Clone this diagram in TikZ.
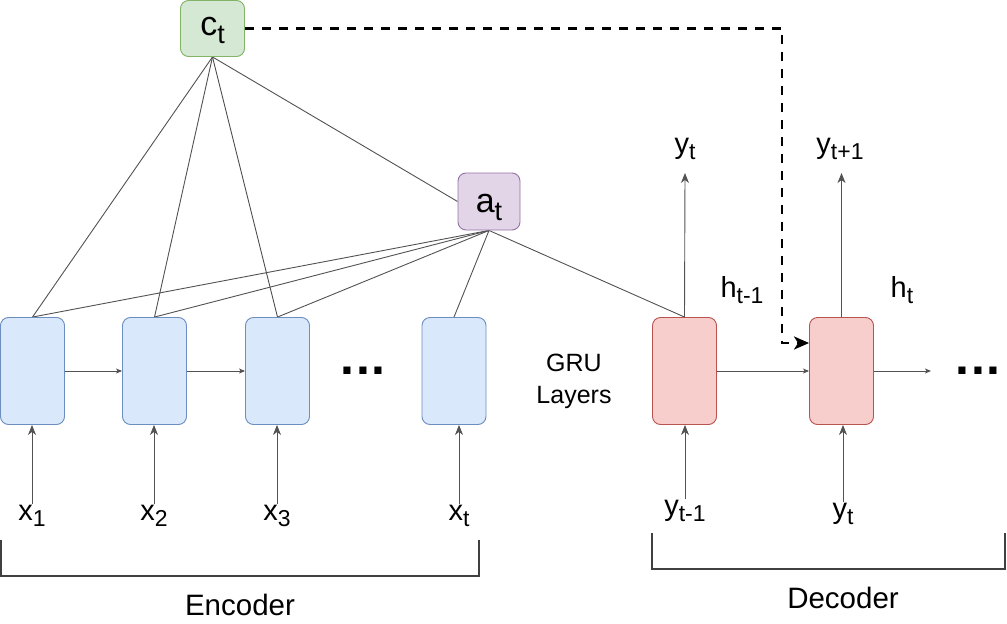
\documentclass[tikz,border=0pt]{standalone}
\usepackage{fontspec}
\setmainfont{Liberation Sans}
\usetikzlibrary{arrows.meta,backgrounds}
\definecolor{encf}{HTML}{DAE8FC}\definecolor{encd}{HTML}{6C8EBF}
\definecolor{decf}{HTML}{F8CECC}\definecolor{decd}{HTML}{B85450}
\definecolor{ctf}{HTML}{D5E8D4}\definecolor{ctd}{HTML}{82B366}
\definecolor{atf}{HTML}{E1D5E7}\definecolor{atd}{HTML}{9673A6}
\newcommand\lb[2]{#1\raisebox{-6pt}{\fontsize{23}{23}\selectfont #2}}
\newcommand\lbbig[2]{#1\raisebox{-8pt}{\fontsize{27}{27}\selectfont #2}}
\tikzset{
  cell/.style={rectangle, rounded corners=8pt, minimum width=64pt, minimum height=107pt, inner sep=0pt, line width=0.9pt},
  enc/.style={cell, fill=encf, draw=encd},
  dec/.style={cell, fill=decf, draw=decd},
  attn/.style={rectangle, rounded corners=8pt, inner sep=0pt, line width=0.9pt, font=\fontsize{34}{34}\selectfont},
  lbl/.style={font=\fontsize{29}{29}\selectfont, inner sep=0pt, anchor=base},
  conn/.style={draw=black!68, line width=0.9pt},
  arr/.style={conn, -{Stealth[length=10pt,width=8pt,inset=3pt]}},
  sarr/.style={conn, -{Stealth[length=6pt,width=5pt,inset=1.5pt]}},
  dsh/.style={draw=black, line width=2.6pt, dash pattern=on 9pt off 8pt, -{Stealth[length=15pt,width=13pt,inset=4pt]}},
  bracket/.style={draw=black!75, line width=1.1pt},
  dots/.style={font=\fontsize{50}{50}\selectfont\bfseries, inner sep=0pt, anchor=base},
  big/.style={font=\fontsize{29.5}{29.5}\selectfont, anchor=base, inner sep=0pt},
}
\begin{document}
\begin{tikzpicture}[x=1pt,y=-1pt]
\useasboundingbox (0,0) rectangle (1007,624);
% cells
\node[enc] (e1) at (32.5,371) {};
\node[enc] (e2) at (154.5,371) {};
\node[enc] (e3) at (277.5,371) {};
\node[enc] (e4) at (454,371) {};
\node[dec] (d1) at (684.5,371) {};
\node[dec] (d2) at (841.5,371) {};
% attention nodes
\node[attn, fill=ctf, draw=ctd, minimum width=64pt, minimum height=56pt, text height=17pt, text depth=4pt] (ct) at (212.5,28.5) {\lbbig{c}{t}};
\node[attn, fill=atf, draw=atd, minimum width=62pt, minimum height=57pt, text height=21pt, text depth=0pt] (at) at (489,201.5) {\lbbig{a}{t}};
% dots
\node[dots] (dots1) at (363,374) {.\kern2pt.\kern2pt.};
\node[dots] (dots2) at (978,374) {.\kern2pt.\kern2pt.};
% labels
\node[lbl] (x1) at (32,520) {\lb{x}{1}};
\node[lbl] (x2) at (154,520) {\lb{x}{2}};
\node[lbl] (x3) at (277,520) {\lb{x}{3}};
\node[lbl] (xt) at (459,520) {\lb{x}{t}};
\node[lbl] (yin1) at (685,515) {\lb{y}{t-1}};
\node[lbl] (yin2) at (843,518) {\lb{y}{t}};
\node[lbl] (yo1) at (685,153) {\lb{y}{t}};
\node[lbl] (yo2) at (840,153) {\lb{y}{t+1}};
\node[lbl] (h1) at (742,297) {\lb{h}{t-1}};
\node[lbl] (h2) at (902,297) {\lb{h}{t}};
\node[font=\fontsize{25}{32}\selectfont, align=center, inner sep=0pt] (gru) at (574,381) {GRU\\Layers};
\node[big] (enclbl) at (240,615) {Encoder};
\node[big] (declbl) at (843,608) {Decoder};
% coordinates
\coordinate (tip1) at (685,173);
\coordinate (tip2) at (841.5,173);
\coordinate (next) at (931,371);
\coordinate (dk1) at (782,28.5);
\coordinate (dk2) at (782,343);
\coordinate (eb1) at (1,540);\coordinate (eb2) at (1,576);\coordinate (eb3) at (479,576);\coordinate (eb4) at (479,540);
\coordinate (db1) at (652,533);\coordinate (db2) at (652,569);\coordinate (db3) at (1005,569);\coordinate (db4) at (1005,533);
% connectors
\begin{scope}[on background layer]
\draw[conn] (ct.south) -- (e1.north);
\draw[conn] (ct.south) -- (e2.north);
\draw[conn] (ct.south) -- (e3.north);
\draw[conn] (ct.south) -- (at.west);
\draw[conn] (at.south) -- (e1.north);
\draw[conn] (at.south) -- (e2.north);
\draw[conn] (at.south) -- (e3.north);
\draw[conn] (at.south) -- (e4.north);
\draw[conn] (at.south) -- (d1.north);
\end{scope}
\draw[sarr] (e1.east) -- (e2.west);
\draw[sarr] (e2.east) -- (e3.west);
\draw[sarr] (d1.east) -- (d2.west);
\draw[sarr] (d2.east) -- (next);
\draw[arr] (x1.north) -- (x1.north |- e1.south);
\draw[arr] (x2.north) -- (x2.north |- e2.south);
\draw[arr] (x3.north) -- (x3.north |- e3.south);
\draw[arr] (xt.north) -- (xt.north |- e4.south);
\draw[arr] (yin1.north) -- (yin1.north |- d1.south);
\draw[arr] (yin2.north) -- (yin2.north |- d2.south);
\draw[arr] (d1.north) -- (tip1);
\draw[arr] (d2.north) -- (tip2);
\draw[dsh] (ct.east) -- (dk1) -- (dk2) -- (dk2 -| d2.west);
\draw[bracket] (eb1) -- (eb2) -- (eb3) -- (eb4);
\draw[bracket] (db1) -- (db2) -- (db3) -- (db4);
\end{tikzpicture}
\end{document}
